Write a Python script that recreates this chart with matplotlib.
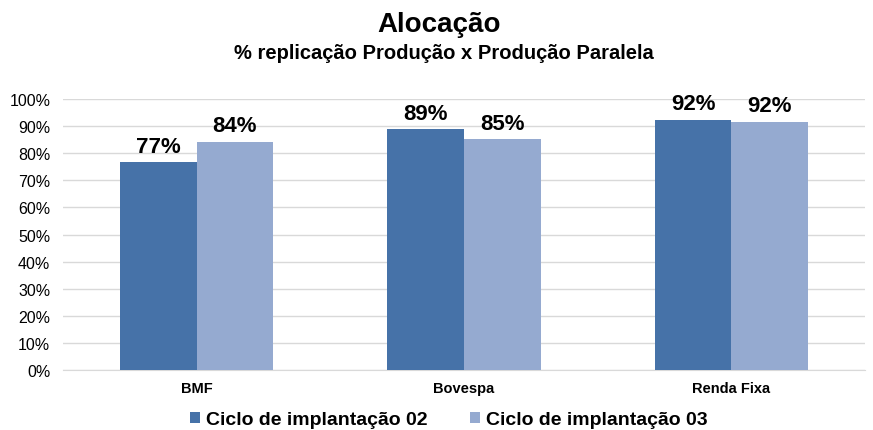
import matplotlib

matplotlib.use("Agg")
from matplotlib import pyplot as plt  # noqa: E402
import numpy as np  # noqa: E402

categories = ["BMF", "Bovespa", "Renda Fixa"]
ciclo_02 = [0.767, 0.889, 0.924]
ciclo_03 = [0.842, 0.852, 0.916]
labels_02 = ["77%", "89%", "92%"]
labels_03 = ["84%", "85%", "92%"]
series_names = ["Ciclo de implantação 02", "Ciclo de implantação 03"]

plt.rcParams["font.family"] = ["Liberation Sans", "DejaVu Sans"]

fig = plt.figure(figsize=(8.73, 4.31), dpi=100)
ax = fig.add_axes([0.072, 0.139, 0.919, 0.629])

x = np.arange(len(categories))
width = 0.287
colors = ["#4672A8", "#95AAD0"]
bars_a = ax.bar(x - width / 2, ciclo_02, width, color=colors[0], label=series_names[0], zorder=3)
bars_b = ax.bar(x + width / 2, ciclo_03, width, color=colors[1], label=series_names[1], zorder=3)

for bars, labels in ((bars_a, labels_02), (bars_b, labels_03)):
    for rect, text in zip(bars, labels):
        ax.annotate(
            text,
            (rect.get_x() + rect.get_width() / 2, rect.get_height()),
            xytext=(0, 4),
            textcoords="offset points",
            ha="center",
            va="bottom",
            fontsize=16,
            fontweight="bold",
        )

ax.set_ylim(0, 1.0)
ax.set_xlim(-0.5, 2.5)
ax.set_yticks(np.arange(0, 1.01, 0.1))
ax.set_yticklabels([f"{int(round(v * 100))}%" for v in np.arange(0, 1.01, 0.1)], fontsize=11.5)
ax.set_xticks(x)
ax.set_xticklabels(categories, fontsize=10.5, fontweight="bold")
ax.tick_params(axis="x", length=0, pad=8)
ax.tick_params(axis="y", length=0, pad=9)
ax.yaxis.grid(True, color="#D9D9D9", linewidth=1.0, zorder=0)
for side in ("top", "right", "left"):
    ax.spines[side].set_visible(False)
ax.spines["bottom"].set_color("#D9D9D9")

fig.text(0.503, 0.942, "Alocação", ha="center", va="center", fontsize=20, fontweight="bold")
fig.text(0.508, 0.877, "% replicação Produção x Produção Paralela", ha="center", va="center",
         fontsize=14.5, fontweight="bold")

fig.legend(
    loc="center",
    bbox_to_anchor=(0.514, 0.024),
    ncol=2,
    frameon=False,
    prop={"size": 14, "weight": "bold"},
    handlelength=0.5,
    handleheight=0.5,
    handletextpad=0.3,
    columnspacing=2.2,
)

fig.savefig("out.png", dpi=100)
plt.close(fig)
